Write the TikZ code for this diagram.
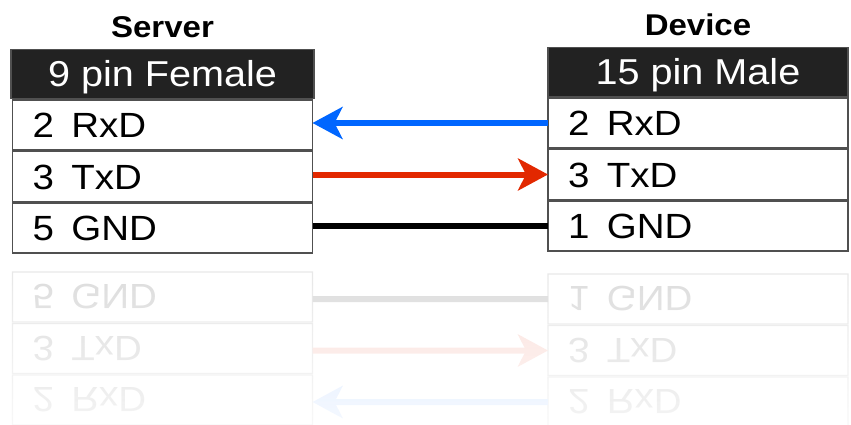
\documentclass[tikz,border=0pt]{standalone}
\usepackage{fontspec}
\setmainfont{Liberation Sans}[FakeStretch=1.1]
\usetikzlibrary{arrows.meta, positioning, fadings}
\definecolor{headcolor}{RGB}{34, 34, 34}
\definecolor{framecolor}{RGB}{80, 80, 80}
\definecolor{rxcolor}{RGB}{0, 102, 255}
\definecolor{txcolor}{RGB}{226, 40, 0}
\tikzfading[name=mirrorfade, top color=transparent!100, bottom color=transparent!30]

% both connectors and the wires between them
\newcommand{\cablepair}{
    \node[headbox, minimum width=303pt] (srvhead) at (162.5,74) {9 pin Female};
    \node[rowbox, below=1.5pt of srvhead] (srvrx) {2\enspace RxD};
    \node[rowbox, below=1.5pt of srvrx] (srvtx) {3\enspace TxD};
    \node[rowbox, below=1.5pt of srvtx] (srvgnd) {5\enspace GND};
    \node[headbox] (devhead) at (698,72) {15 pin Male};
    \node[rowbox, below=1.5pt of devhead] (devrx) {2\enspace RxD};
    \node[rowbox, below=1.5pt of devrx] (devtx) {3\enspace TxD};
    \node[rowbox, below=1.5pt of devtx] (devgnd) {1\enspace GND};
    \draw[wire, rxcolor, -{Stealth[length=30pt, width=32pt, inset=8pt]}] (devrx.west) -- (devrx.west -| srvrx.east);
    \draw[wire, txcolor, -{Stealth[length=30pt, width=32pt, inset=8pt]}] (srvtx.east |- devtx.west) -- (devtx.west);
    \draw[wire, black] (srvgnd.east |- devgnd.west) -- (devgnd.west);
}

\begin{document}
\begin{tikzpicture}[x=1pt, y=-1pt,
    pinbox/.style={draw=framecolor, line width=1.2pt, minimum width=300pt, inner sep=0pt, outer sep=0pt, text depth=0pt},
    headbox/.style={pinbox, fill=headcolor, text=white, minimum height=49pt, text height=26pt, font=\fontsize{36}{36}\selectfont},
    rowbox/.style={pinbox, fill=white, minimum height=50pt, text width=260pt, align=left, text height=25pt, font=\fontsize{35}{35}\selectfont},
    title/.style={inner sep=0pt, text height=22pt, text depth=0pt, font=\fontsize{30}{30}\selectfont\bfseries},
    wire/.style={line width=6pt}]
\useasboundingbox (0,0) rectangle (851,425);

\cablepair
\node[title, above=12pt of srvhead] (srvtitle) {Server};
\node[title, above=12pt of devhead] (devtitle) {Device};

% mirror image below
\begin{scope}
    \clip (0,262) rectangle (851,425);
    \begin{scope}[shift={(0,525)}, yscale=-1, transform shape, transparency group, opacity=0.14]
        \cablepair
    \end{scope}
    \fill[white, path fading=mirrorfade] (0,262) rectangle (851,425);
\end{scope}
\end{tikzpicture}
\end{document}
